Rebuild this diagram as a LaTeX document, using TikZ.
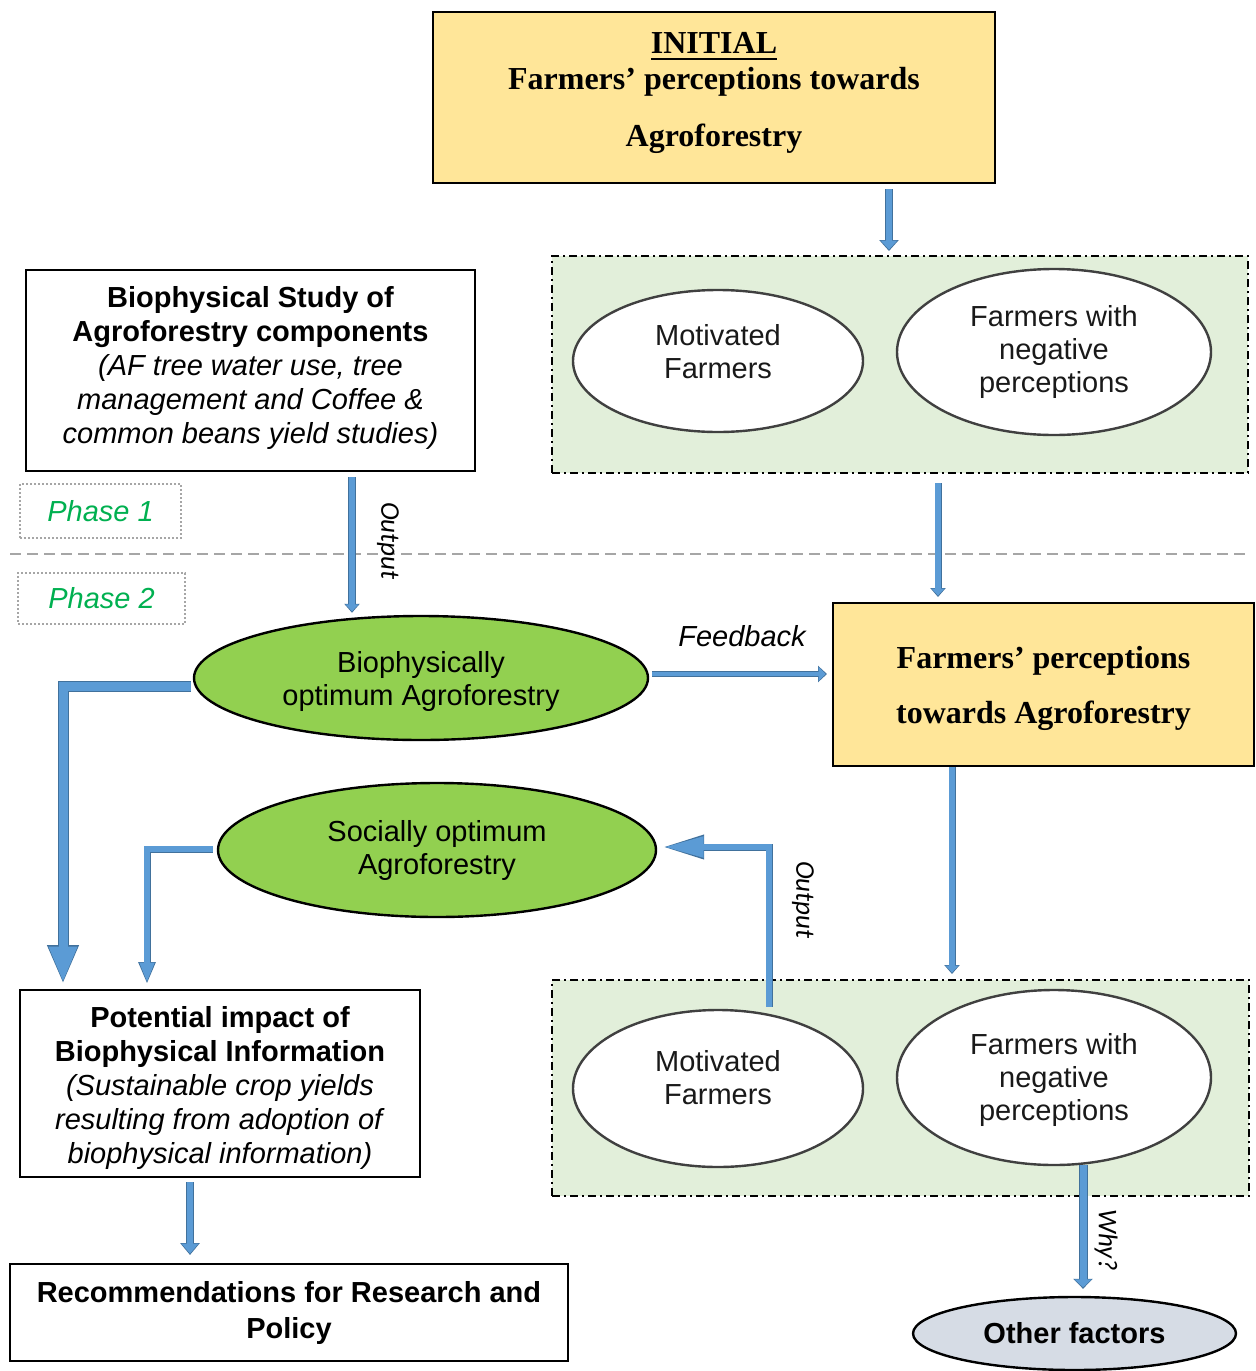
\documentclass[tikz,border=0pt]{standalone}
\usepackage{fontspec}
\setmainfont{Liberation Serif}
\newfontfamily\arialfont{Liberation Sans}
\newfontfamily\calibfont{Carlito}
\usetikzlibrary{shapes.geometric,arrows.meta}

\definecolor{boxyellow}{HTML}{FFE699}
\definecolor{groupgreen}{HTML}{E2EFDA}
\definecolor{leafgreen}{HTML}{92D050}
\definecolor{mistblue}{HTML}{D6DCE5}
\definecolor{flowblue}{HTML}{5B9BD5}
\definecolor{flowedge}{HTML}{41719C}
\definecolor{phasegreen}{HTML}{00B050}
\definecolor{rulegray}{HTML}{A6A6A6}

% heavy underline for the heading word
\newcommand\thickunderline[1]{\setbox0\hbox{#1}\rlap{\rule[-3.4pt]{\wd0}{1.4pt}}\box0}

\tikzset{
  sanstext/.style={font=\arialfont\fontsize{14.5}{17}\selectfont, align=center},
  seriftext/.style={font=\bfseries\fontsize{16}{18}\selectfont, align=center},
  plainbox/.style={draw=black, line width=1pt, fill=white, inner sep=0pt, sanstext},
  yellowbox/.style={draw=black, line width=1pt, fill=boxyellow, inner sep=0pt, seriftext},
  groupbox/.style={draw=black, line width=1pt, fill=groupgreen, inner sep=0pt,
    dash pattern=on 4pt off 2pt on 1pt off 2pt},
  phasebox/.style={draw=rulegray, line width=1pt, dash pattern=on 1pt off 1pt, inner sep=0pt,
    text=phasegreen, font=\arialfont\itshape\fontsize{14.5}{17}\selectfont},
  whiteell/.style={ellipse, draw=black!75, line width=1.2pt, fill=white, inner sep=0pt,
    text=black!90, font=\arialfont\fontsize{14.5}{16.5}\selectfont, align=center},
  greenell/.style={ellipse, draw=black, line width=1.2pt, fill=leafgreen, inner sep=0pt,
    font=\arialfont\fontsize{14.5}{16.5}\selectfont, align=center},
  elltext/.style={text=black!90, font=\arialfont\fontsize{14.5}{16.5}\selectfont, align=center},
  sidelabel/.style={rotate=-90, font=\calibfont\itshape\fontsize{13.5}{16}\selectfont},
  % block arrow: inner shaft, outer shaft, inner head width/length, outer head width/length
  flow/.style n args={6}{
    preaction={draw=flowedge, line width=#2, shorten >=0pt, -{Triangle[width=#5,length=#6]}},
    draw=flowblue, line width=#1, line join=miter, shorten >=0.7pt,
    -{Triangle[width=#3,length=#4]}},
}

\begin{document}
\begin{tikzpicture}[x=0.5pt, y=-0.5pt]
\useasboundingbox (0,0) rectangle (1255,1371);

% phase divider
\draw[rulegray, line width=1pt, dash pattern=on 5.5pt off 3pt] (10,554) -- (1250,554);

% top heading box
\node[yellowbox, minimum width=281pt, minimum height=85.5pt] (initial) at (714,97.5) {};
\node[seriftext] (initialtext) at (714,93)
  {\thickunderline{INITIAL}\\Farmers’ perceptions towards\\[10.5pt]Agroforestry};

% first farmer group
\node[groupbox, minimum width=348pt, minimum height=108.5pt] (topgrp) at (900,364.5) {};
\node[whiteell, minimum width=145pt, minimum height=71pt] (mot1) at (718,361) {};
\node[elltext] (mot1text) at ([yshift=4.5pt]mot1.center) {Motivated\\Farmers};
\node[whiteell, minimum width=157pt, minimum height=83pt] (neg1) at (1054,352)
  {Farmers with\\negative\\perceptions};

% later perceptions box
\node[yellowbox, minimum width=210.5pt, minimum height=81.5pt] (perc) at (1043.5,684.5) {};
\node[font=\bfseries\fontsize{16}{27.5}\selectfont, align=center] (perctext)
  at ([yshift=-2pt]perc.center) {Farmers’ perceptions\\towards Agroforestry};

% biophysical study
\node[plainbox, minimum width=224.5pt, minimum height=100.5pt] (bio) at (250.5,370.5) {};
\node[sanstext] (biotext) at ([yshift=1.5pt]bio.center)
  {\textbf{Biophysical Study of}\\\textbf{Agroforestry components}\\
   \textit{(AF tree water use, tree}\\\textit{management and Coffee \&}\\
   \textit{common beans yield studies)}};

% phase tags
\node[phasebox, minimum width=80.5pt, minimum height=27pt] (phase1) at (100.5,511) {Phase 1};
\node[phasebox, minimum width=83.5pt, minimum height=25.5pt] (phase2) at (101.5,598.5) {Phase 2};

% optimum agroforestry ellipses
\node[greenell, minimum width=227pt, minimum height=62pt] (bioopt) at (421,678) {};
\node[elltext, text=black] (biopttext) at ([yshift=-1.8pt]bioopt.center)
  {Biophysically\\optimum Agroforestry};
\node[greenell, minimum width=219pt, minimum height=67pt] (social) at (437,850)
  {Socially optimum\\Agroforestry};

% impact and recommendations
\node[plainbox, minimum width=200pt, minimum height=93.5pt] (impact) at (220,1083.5) {};
\node[sanstext] (impacttext) at ([yshift=-2pt]impact.center)
  {\textbf{Potential impact of}\\\textbf{Biophysical Information}\\
   \textit{(Sustainable crop yields}\\\textit{resulting from adoption of}\\
   \textit{biophysical information)}};
\node[plainbox, minimum width=279pt, minimum height=48.5pt, font=\arialfont\bfseries\fontsize{14.5}{18}\selectfont]
  (recom) at (289,1312.5) {Recommendations for Research and\\Policy};

% second farmer group
\node[groupbox, minimum width=348.5pt, minimum height=108pt] (botgrp) at (900.5,1088) {};
\node[whiteell, minimum width=145pt, minimum height=78.5pt] (mot2) at (718,1088.5) {};
\node[elltext] (mot2text) at ([yshift=5.5pt]mot2.center) {Motivated\\Farmers};
\node[whiteell, minimum width=157pt, minimum height=87.5pt] (neg2) at (1054,1077.5) {};
\node[elltext] (neg2text) at ([yshift=-1pt]neg2.center) {Farmers with\\negative\\perceptions};

% other factors
\node[ellipse, draw=black, line width=1.2pt, fill=mistblue, inner sep=0pt,
  minimum width=161.5pt, minimum height=36.5pt, font=\arialfont\bfseries\fontsize{14.5}{17}\selectfont]
  (other) at (1074.5,1333.5) {Other factors};

% connectors
\draw[flow={3pt}{4pt}{8pt}{4.5pt}{9.5pt}{5.5pt}]
  ([xshift=87.5pt,yshift=-2.5pt]initial.south) -- ([xshift=-5.5pt,yshift=2pt]topgrp.north);
\draw[flow={2.6pt}{3.5pt}{6.3pt}{3.5pt}{7.5pt}{4.5pt}]
  ([xshift=19pt,yshift=-4.5pt]topgrp.south) -- ([xshift=-52.75pt,yshift=2.5pt]perc.north);
\draw[flow={3pt}{4pt}{6.3pt}{3.5pt}{7.5pt}{4.5pt}]
  ([xshift=50.75pt,yshift=-2.5pt]bio.south) -- ([xshift=-34.5pt,yshift=1pt]bioopt.north);
\draw[flow={2.2pt}{3pt}{6.8pt}{3.5pt}{8pt}{4.5pt}]
  ([xshift=1.5pt,yshift=2pt]bioopt.east) -- ([xshift=-2.5pt,yshift=5.25pt]perc.west);
\draw[flow={4.5pt}{5.5pt}{13pt}{18pt}{14.5pt}{19.5pt}]
  ([xshift=-1pt,yshift=-4pt]bioopt.west) -| ([xshift=-78.5pt,yshift=2.5pt]impact.north);
\draw[flow={2.6pt}{3.5pt}{6.8pt}{10pt}{8pt}{11pt}]
  ([xshift=-2pt,yshift=0.5pt]social.west) -| ([xshift=-36.5pt,yshift=2.5pt]impact.north);
\draw[flow={2.6pt}{3.5pt}{10pt}{19.5pt}{11.5pt}{20.5pt}]
  ([xshift=25.5pt,yshift=1pt]mot2.north) |- ([xshift=3pt,yshift=1.5pt]social.east);
\draw[flow={2.6pt}{3.5pt}{6.3pt}{3.5pt}{7.5pt}{4.5pt}]
  ([xshift=-45.75pt]perc.south) -- ([xshift=25.75pt,yshift=2.5pt]botgrp.north);
\draw[flow={3.5pt}{4.5pt}{8.2pt}{4pt}{9.5pt}{5pt}]
  ([xshift=14.5pt,yshift=0.5pt]neg2.south) -- ([xshift=4.25pt,yshift=3.5pt]other.north);
\draw[flow={3pt}{4pt}{8.2pt}{5pt}{9.5pt}{6pt}]
  ([xshift=-15pt,yshift=-2pt]impact.south) -- ([xshift=-49.5pt,yshift=4pt]recom.north);

% connector labels
\node[sidelabel] (outlabel1) at (388,541) {Output};
\node[sidelabel] (outlabel2) at (803,900) {Output};
\node[sidelabel] (whylabel) at (1106,1240) {Why?};
\node[font=\arialfont\itshape\fontsize{14.5}{17}\selectfont] (feedlabel) at (742,636) {Feedback};
\end{tikzpicture}
\end{document}
